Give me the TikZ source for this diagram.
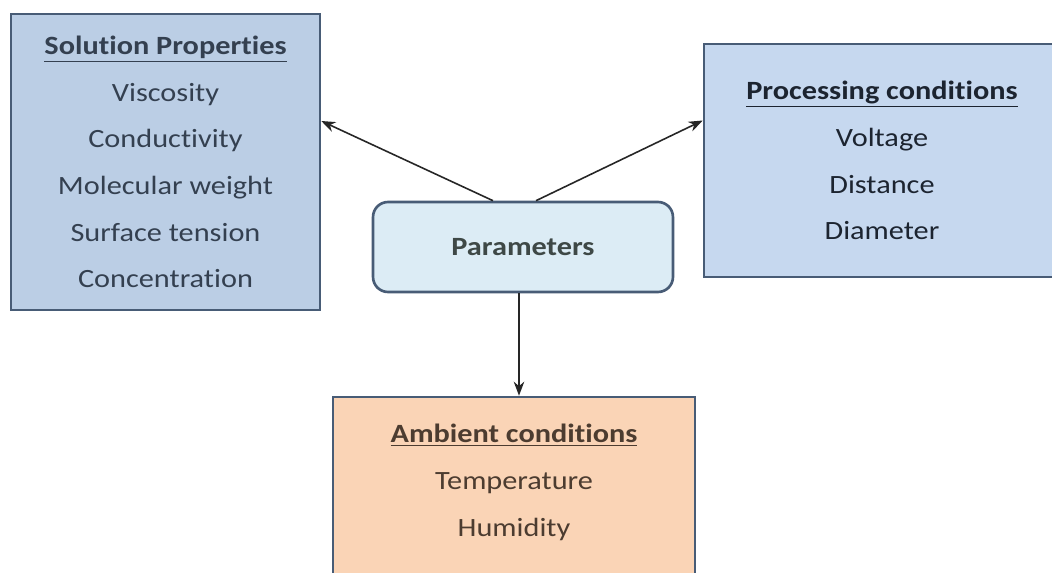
\documentclass[tikz,border=0pt]{standalone}
\usepackage{fontspec}
\setmainfont{Carlito}[FakeStretch=1.15, Ligatures={NoCommon}]
\usetikzlibrary{calc,arrows.meta}

\definecolor{boxline}{RGB}{72,92,118}
\definecolor{solfill}{RGB}{187,206,229}
\definecolor{procfill}{RGB}{198,216,239}
\definecolor{parfill}{RGB}{220,236,245}
\definecolor{ambfill}{RGB}{250,212,182}
\definecolor{soltext}{RGB}{52,64,80}
\definecolor{proctext}{RGB}{28,36,48}
\definecolor{partext}{RGB}{62,72,70}
\definecolor{ambtext}{RGB}{76,60,48}

\tikzset{
  propbox/.style={draw=boxline, line width=1.5pt, align=center, inner sep=0pt,
    font=\fontsize{15}{26.6}\selectfont},
  link/.style={-{Stealth[length=8pt,width=6pt]}, line width=0.9pt, black!85},
}

\begin{document}
\begin{tikzpicture}[x=0.02cm, y=-0.02cm]
  \useasboundingbox[fill=white] (0,0) rectangle (1052,572);

  % Boxes
  \node (solution) [propbox, fill=solfill, text=soltext,
    minimum width=6.18cm, minimum height=5.92cm] at (165.5,162)
    {\textbf{\underline{Solution Properties}}\\Viscosity\\Conductivity\\
     Molecular weight\\Surface tension\\Concentration};

  \node (processing) [propbox, fill=procfill, text=proctext,
    minimum width=7.12cm, minimum height=4.66cm] at (882,160.5)
    {\textbf{\underline{Processing conditions}}\\Voltage\\Distance\\Diameter};

  \node (param) [propbox, fill=parfill, text=partext, rounded corners=0.3cm,
    minimum width=6cm, minimum height=1.8cm] at (523,247)
    {\textbf{Parameters}};

  \node (ambient) [propbox, fill=ambfill, text=ambtext,
    minimum width=7.24cm, minimum height=3.76cm] at (514,491)
    {\textbf{\underline{Ambient conditions}}\\Temperature\\Humidity\\[-14.6pt]\mbox{}};

  % Connectors
  \draw [link] ($(param.north)+(-30,0)$) -- ($(solution.east)+(0,-41)$);
  \draw [link] ($(param.north)+(13,0)$) -- ($(processing.west)+(0,-40)$);
  \draw [link] ($(param.south)+(-4,0)$) -- ($(ambient.north)+(5,0)$);
\end{tikzpicture}
\end{document}
